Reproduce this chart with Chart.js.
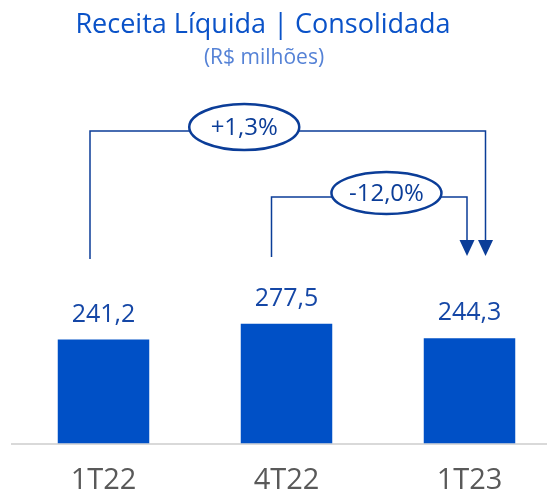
<!DOCTYPE html>
<html>
<head>
<meta charset="utf-8">
<script src="https://cdn.jsdelivr.net/npm/chart.js@4.4.1/dist/chart.umd.min.js"></script>
<style>
  html, body { margin: 0; padding: 0; background: #fff; overflow: hidden; }
  #wrap { width: 547px; height: 495px; overflow: hidden; }
</style>
</head>
<body>
<div id="wrap"><canvas id="chart" width="565" height="495"></canvas></div>
<script>
// Data
const categories = ["1T22", "4T22", "1T23"];
const revenue = [241.2, 277.5, 244.3];
const valueLabels = ["241,2", "277,5", "244,3"];
const compareFrom = [0, 1];
const compareTo = [2, 2];
const compareLabels = ["+1,3%", "-12,0%"];

const FONT = "'Open Sans', sans-serif";
const BAR_BLUE = "#0050c6";
const DARK_BLUE = "#0b3d98";

// Title + subtitle drawn on top
const titlePlugin = {
  id: "titles",
  afterDraw(chart) {
    const ctx = chart.ctx;
    ctx.save();
    ctx.textAlign = "center";
    ctx.textBaseline = "alphabetic";
    ctx.fillStyle = "#0a52c8";
    ctx.font = "27px " + FONT;
    ctx.fillText("Receita Líquida | Consolidada", 263, 33);
    ctx.fillStyle = "#5582d6";
    ctx.font = "21px " + FONT;
    ctx.fillText("(R$ milhões)", 264, 64);
    ctx.restore();
  },
};

// Value labels above the bars
const valuePlugin = {
  id: "values",
  afterDatasetsDraw(chart) {
    const ctx = chart.ctx;
    const meta = chart.getDatasetMeta(0);
    ctx.save();
    ctx.textAlign = "center";
    ctx.textBaseline = "alphabetic";
    ctx.fillStyle = "#1547a6";
    ctx.font = "25px " + FONT;
    meta.data.forEach((bar, i) => {
      ctx.fillText(valueLabels[i], bar.x, bar.y - 18);
    });
    ctx.restore();
  },
};

// Variation brackets with arrows and ellipse labels
const bracketStyle = [
  { level: 131, leftDx: -13.5, rightDx: 16, bottom: 259, pillAt: 0.39, rx: 55, ry: 23 },
  { level: 197, leftDx: -15, rightDx: -2.5, bottom: 257, pillAt: 0.588, rx: 55, ry: 21 },
];

const bracketPlugin = {
  id: "brackets",
  afterDraw(chart) {
    const ctx = chart.ctx;
    const x = chart.scales.x;
    ctx.save();
    compareLabels.forEach((label, i) => {
      const s = bracketStyle[i];
      const x1 = x.getPixelForValue(compareFrom[i]) + s.leftDx;
      const x2 = x.getPixelForValue(compareTo[i]) + s.rightDx;
      const tipY = 256;
      const headH = 16;
      const headW = 15;
      ctx.strokeStyle = DARK_BLUE;
      ctx.fillStyle = DARK_BLUE;
      ctx.lineWidth = 1.5;
      ctx.beginPath();
      ctx.moveTo(x1, s.bottom);
      ctx.lineTo(x1, s.level);
      ctx.lineTo(x2, s.level);
      ctx.lineTo(x2, tipY - headH);
      ctx.stroke();
      // arrow head
      ctx.beginPath();
      ctx.moveTo(x2 - headW / 2, tipY - headH);
      ctx.lineTo(x2 + headW / 2, tipY - headH);
      ctx.lineTo(x2, tipY);
      ctx.closePath();
      ctx.fill();
      // ellipse label
      const cx = x1 + (x2 - x1) * s.pillAt;
      const cy = s.level - 4;
      ctx.beginPath();
      ctx.ellipse(cx, cy, s.rx, s.ry, 0, 0, Math.PI * 2);
      ctx.fillStyle = "#ffffff";
      ctx.fill();
      ctx.lineWidth = 2.5;
      ctx.stroke();
      ctx.fillStyle = DARK_BLUE;
      ctx.font = "24px " + FONT;
      ctx.textAlign = "center";
      ctx.textBaseline = "middle";
      ctx.fillText(label, cx, cy + 1);
    });
    ctx.restore();
  },
};

new Chart(document.getElementById("chart"), {
  type: "bar",
  data: {
    labels: categories,
    datasets: [
      {
        data: revenue,
        backgroundColor: BAR_BLUE,
        categoryPercentage: 1,
        barPercentage: 0.5,
      },
    ],
  },
  options: {
    responsive: false,
    animation: false,
    layout: { padding: { top: 77, left: 12, right: 4, bottom: 0 } },
    scales: {
      y: {
        display: false,
        min: 0,
        max: 850,
      },
      x: {
        afterFit(scale) {
          scale.height = 51.5;
        },
        grid: { display: true, drawOnChartArea: false, drawTicks: false },
        border: { display: true, color: "#d9d9d9", width: 2 },
        ticks: {
          color: "#595959",
          padding: 20,
          font: { family: FONT, size: 29 },
        },
      },
    },
    plugins: {
      legend: { display: false },
      tooltip: { enabled: false },
    },
  },
  plugins: [valuePlugin, bracketPlugin, titlePlugin],
});
</script>
</body>
</html>
